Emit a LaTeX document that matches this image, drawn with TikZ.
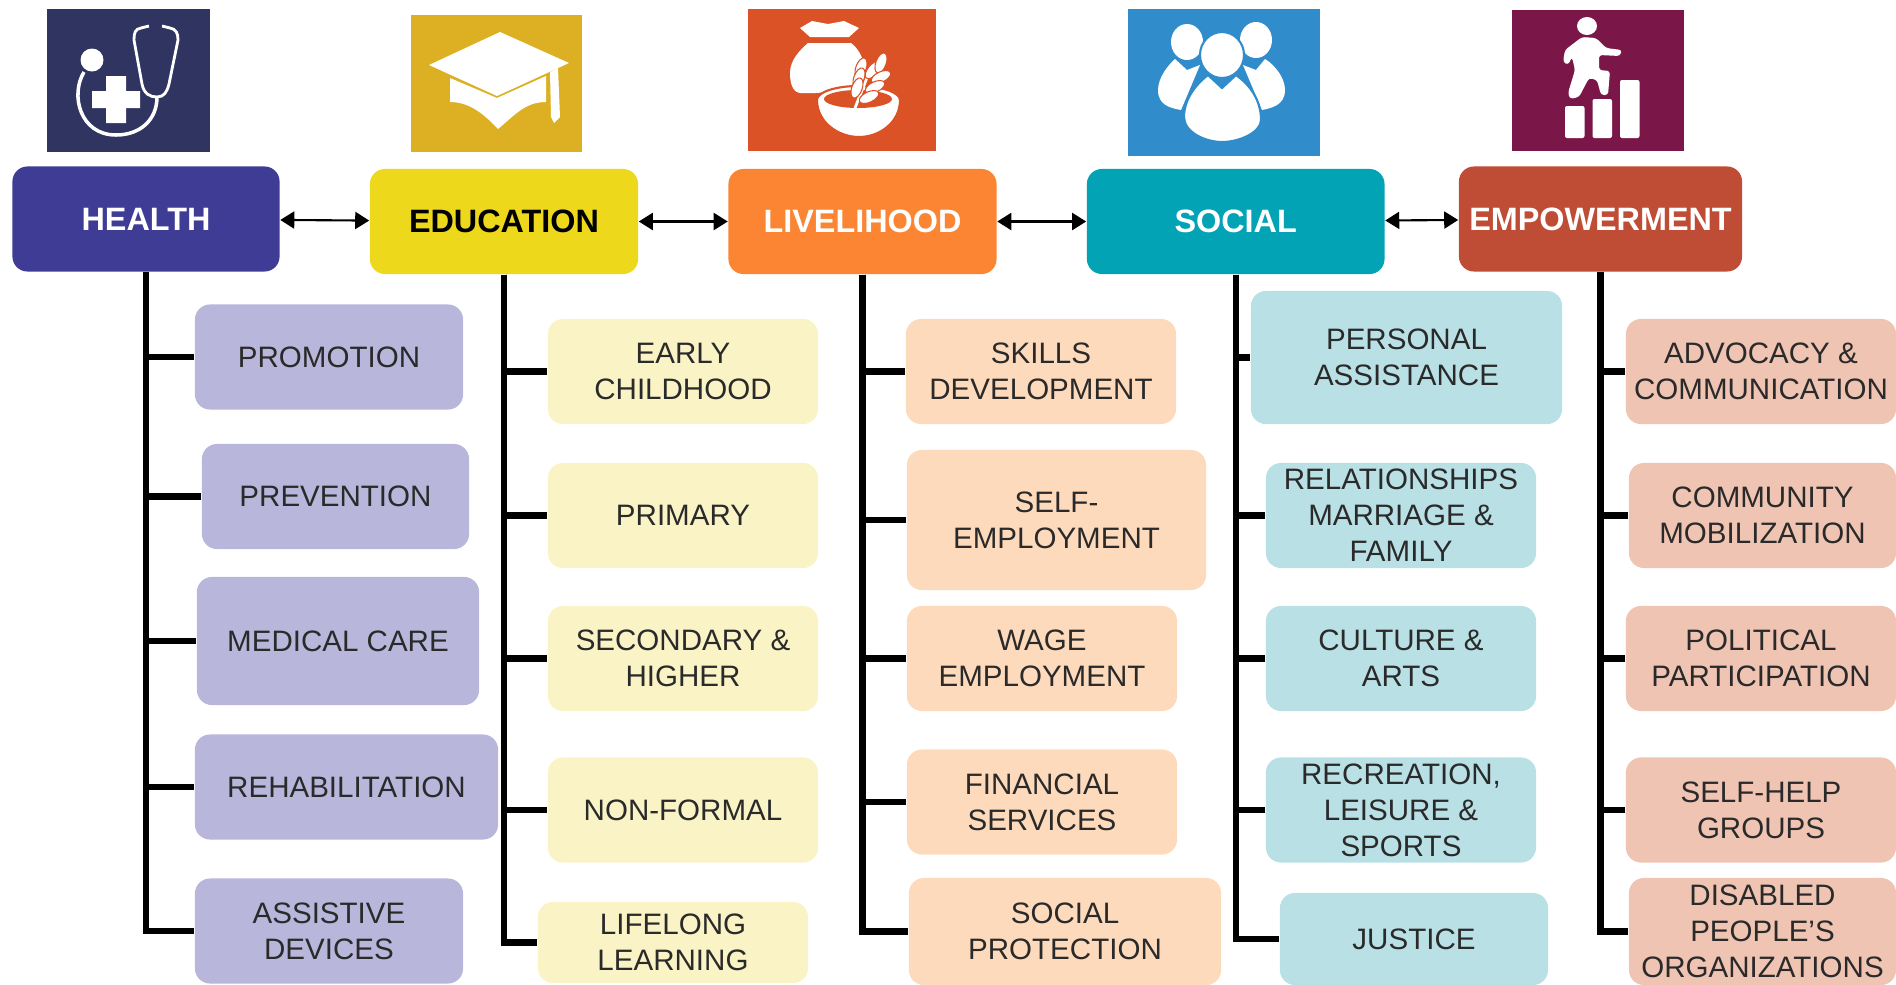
\documentclass[tikz,border=0pt]{standalone}
\usepackage{fontspec}
\setmainfont{Liberation Sans}
\usepackage{pgf,tikz}
\usetikzlibrary{arrows.meta}
\definecolor{healthdark}{HTML}{3F3C96}
\definecolor{educdark}{HTML}{EDD81C}
\definecolor{livedark}{HTML}{FB8532}
\definecolor{socdark}{HTML}{01A3B5}
\definecolor{empdark}{HTML}{BF4C35}
\definecolor{healthlight}{HTML}{B9B6DC}
\definecolor{educlight}{HTML}{FAF3C6}
\definecolor{livelight}{HTML}{FEDABC}
\definecolor{soclight}{HTML}{B9E0E5}
\definecolor{emplight}{HTML}{EFC4B3}
\definecolor{healthicon}{HTML}{2F3460}
\definecolor{educicon}{HTML}{DDB024}
\definecolor{liveicon}{HTML}{DA5226}
\definecolor{socicon}{HTML}{318CCC}
\definecolor{empicon}{HTML}{7B1748}
\definecolor{subtext}{HTML}{2A2A2A}

\begin{document}
\begin{tikzpicture}[x=0.01cm,y=-0.01cm]
		\tikzstyle{every node}+=[inner sep=0pt]
		\tikzstyle{head}=[rounded corners=0.15cm, yshift=-0.01cm, minimum height=1.05cm, text=white, align=center, font=\fontsize{9.2}{11}\selectfont\bfseries]
		\tikzstyle{sub}=[rounded corners=0.15cm, yshift=-0.01cm, minimum width=2.7cm, minimum height=1.05cm, text=subtext, align=center, font=\fontsize{8.4}{10.2}\selectfont]
		\tikzstyle{icon}=[minimum width=1.7cm, minimum height=1.42cm]
		\tikzstyle{trunk}=[black, line width=1.8pt]
		\tikzstyle{link}=[black, line width=0.6pt, {Triangle[length=0.14cm,width=0.17cm]}-{Triangle[length=0.14cm,width=0.17cm]}]
		\useasboundingbox (0,0) rectangle (1896,984);

		\node [icon, fill=healthicon, minimum width=1.63cm] (healthpic) at (128.5,80.5) {};
		\node [icon, fill=educicon, minimum width=1.71cm, minimum height=1.37cm] (educpic) at (496.5,83.5) {};
		\node [icon, fill=liveicon, minimum width=1.88cm] (livepic) at (842,80) {};
		\node [icon, fill=socicon, minimum width=1.92cm, minimum height=1.47cm] (socpic) at (1224,82.5) {};
		\node [icon, fill=empicon, minimum width=1.72cm, minimum height=1.41cm] (emppic) at (1598,80.5) {};

		\node [head, fill=healthdark, minimum width=2.67cm] (health) at (146,218) {HEALTH};
		\node [head, fill=educdark, text=black, minimum width=2.68cm] (educ) at (504,220.5) {EDUCATION};
		\node [head, fill=livedark, minimum width=2.68cm] (live) at (862.5,220.5) {LIVELIHOOD};
		\node [head, fill=socdark, minimum width=2.975cm] (soc) at (1235.7,220.5) {SOCIAL};
		\node [head, fill=empdark, minimum width=2.83cm] (emp) at (1600.5,218) {EMPOWERMENT};

		\node [sub, fill=healthlight, minimum width=2.68cm] (promo) at (329,356) {PROMOTION};
		\node [sub, fill=healthlight, minimum width=2.67cm] (prev) at (335.5,495.5) {PREVENTION};
		\node [sub, fill=healthlight, minimum width=2.82cm, minimum height=1.28cm] (medical) at (338,640) {MEDICAL CARE};
		\node [sub, fill=healthlight, minimum width=3.03cm] (rehab) at (346.5,786) {REHABILITATION};
		\node [sub, fill=healthlight, minimum width=2.68cm] (assist) at (329,930) {ASSISTIVE\\DEVICES};

		\node [sub, fill=educlight] (early) at (683,370.5) {EARLY\\CHILDHOOD};
		\node [sub, fill=educlight] (primary) at (683,514.5) {PRIMARY};
		\node [sub, fill=educlight] (second) at (683,657.5) {SECONDARY \&\\HIGHER};
		\node [sub, fill=educlight] (nonformal) at (683,809) {NON-FORMAL};
		\node [sub, fill=educlight, minimum height=0.81cm] (lifelong) at (673,941.5) {LIFELONG\\LEARNING};

		\node [sub, fill=livelight] (skills) at (1041,370.5) {SKILLS\\DEVELOPMENT};
		\node [sub, fill=livelight, minimum width=2.99cm, minimum height=1.4cm] (selfemp) at (1056.5,519) {SELF-\\EMPLOYMENT};
		\node [sub, fill=livelight] (wage) at (1042,657.5) {WAGE\\EMPLOYMENT};
		\node [sub, fill=livelight] (finance) at (1042,801) {FINANCIAL\\SERVICES};
		\node [sub, fill=livelight, minimum width=3.12cm, minimum height=1.07cm] (protect) at (1065,930.5) {SOCIAL\\PROTECTION};

		\node [sub, fill=soclight, minimum width=3.11cm, minimum height=1.33cm] (personal) at (1406.5,356.5) {PERSONAL\\ASSISTANCE};
		\node [sub, fill=soclight] (relation) at (1401,514.5) {RELATIONSHIPS\\MARRIAGE \&\\FAMILY};
		\node [sub, fill=soclight] (culture) at (1401,657.5) {CULTURE \&\\ARTS};
		\node [sub, fill=soclight] (recreat) at (1401,809) {RECREATION,\\LEISURE \&\\SPORTS};
		\node [sub, fill=soclight, minimum width=2.68cm, minimum height=0.92cm] (justice) at (1414,938) {JUSTICE};

		\node [sub, fill=emplight] (advocacy) at (1761,370.5) {ADVOCACY \&\\COMMUNICATION};
		\node [sub, fill=emplight, minimum width=2.67cm] (mobil) at (1762.5,514.5) {COMMUNITY\\MOBILIZATION};
		\node [sub, fill=emplight] (politic) at (1761,657.5) {POLITICAL\\PARTICIPATION};
		\node [sub, fill=emplight] (selfhelp) at (1761,809) {SELF-HELP\\GROUPS};
		\node [sub, fill=emplight, minimum width=2.67cm, minimum height=1.07cm] (disabled) at (1762.5,930.5) {DISABLED\\PEOPLE'S\\ORGANIZATIONS};

		\draw [link] (health) -- (educ);
		\draw [link] (educ) -- (live);
		\draw [link] (live) -- (soc);
		\draw [link] (soc) -- (emp);

		\foreach \kid in {promo,prev,medical,rehab,assist}
			\draw [trunk] (health.south) |- (\kid.west);
		\foreach \kid in {early,primary,second,nonformal,lifelong}
			\draw [trunk] (educ.south) |- (\kid.west);
		\foreach \kid in {skills,selfemp,wage,finance,protect}
			\draw [trunk] (live.south) |- (\kid.west);
		\foreach \kid in {personal,relation,culture,recreat,justice}
			\draw [trunk] (soc.south) |- (\kid.west);
		\foreach \kid in {advocacy,mobil,politic,selfhelp,disabled}
			\draw [trunk] (emp.south) |- (\kid.west);

		\fill [white] (92,60) circle (11.5);
		\fill [white] (106,76) -- (126,76) -- (126,91) -- (140,91) -- (140,108) -- (126,108) -- (126,123) -- (106,123) -- (106,108) -- (92,108) -- (92,91) -- (106,91) -- cycle;
		\draw [white, line width=1pt] (84,72) .. controls (70,95) and (80,135) .. (116,135) .. controls (140,135) and (157,120) .. (157,97);
		\draw [white, line width=0.8pt] (149,26) -- (141,28) .. controls (135,29) and (134,33) .. (134,40) -- (142,84) .. controls (144,94) and (150,97) .. (157,97) .. controls (164,97) and (167,92) .. (169,84) -- (178,40) .. controls (178,33) and (176,29) .. (170,28) -- (162,26);

		\fill [white] (500,32) -- (569,63) -- (497,96) -- (429,65) -- cycle;
		\fill [white] (450,78) -- (497,98) -- (546,76) -- (546,102) .. controls (525,102) and (515,115) .. (498,129) .. controls (485,115) and (470,102) .. (450,102) -- cycle;
		\fill [white] (550,72) -- (558,68) -- (560,117) -- (554,123) -- (551,117) -- cycle;

		\fill [white] (800,28) -- (812,21) -- (828,24) -- (844,21) -- (859,28) -- (849,37) -- (810,37) -- cycle;
		\fill [white] (808,43) -- (851,43) .. controls (858,48) and (863,58) .. (863,62) -- (851,90) -- (816,93) -- (800,93) .. controls (792,92) and (790,82) .. (790,73) .. controls (790,60) and (800,50) .. (808,43) -- cycle;
		\filldraw [white, draw=liveicon, line width=0.6pt] (817,100) .. controls (817,122) and (838,137) .. (859,137) .. controls (880,137) and (900,122) .. (900,100) .. controls (900,92) and (880,86) .. (858,86) .. controls (836,86) and (817,92) .. (817,100) -- cycle;
		\fill [liveicon] (858,99) ellipse [x radius=34, y radius=9];
		\draw [white, line width=0.8pt] (855,108) -- (870,70);
		\foreach \gx/\gy/\ga in {861/68/70,859/78/70,857/88/70,873/70/50,881/63/70,881/77/25,875/87/25,869/97/25}
			\filldraw [white, draw=liveicon, line width=0.3pt] (\gx,\gy) ellipse [x radius=0.105cm, y radius=0.052cm, rotate=\ga];

		\fill [white] (1187,42) ellipse [x radius=16, y radius=18];
		\fill [white] (1256,40) ellipse [x radius=16, y radius=18];
		\fill [white] (1175,59) -- (1187,70) -- (1200,65) -- (1181,110) .. controls (1170,108) and (1158,105) .. (1158,90) .. controls (1158,78) and (1168,65) .. (1175,59) -- cycle;
		\fill [white] (1265,59) -- (1256,70) -- (1243,65) -- (1262,110) .. controls (1272,108) and (1285,105) .. (1285,90) .. controls (1285,78) and (1275,65) .. (1265,59) -- cycle;
		\filldraw [white, draw=socicon, line width=0.6pt] (1222,55) ellipse [x radius=22, y radius=23];
		\filldraw [white, draw=socicon, line width=0.6pt] (1208,75) -- (1222,88) -- (1236,75) .. controls (1250,85) and (1261,100) .. (1261,120) .. controls (1261,132) and (1240,142) .. (1222,142) .. controls (1205,142) and (1184,132) .. (1184,117) .. controls (1184,100) and (1195,85) .. (1208,75) -- cycle;

		\fill [white] (1587,26) ellipse [x radius=10, y radius=9];
		\fill [white, rounded corners=0.03cm] (1565,50) -- (1582,37) -- (1596,38) -- (1606,48) -- (1622,50) -- (1620,56) -- (1599,55) -- (1599,70) -- (1610,71) -- (1608,95) -- (1601,95) -- (1597,80) -- (1589,78) -- (1579,97) -- (1570,99) -- (1568,93) -- (1575,70) -- (1572,57) -- (1568,65) -- (1563,62) -- cycle;
		\foreach \bl/\bt in {1565/106,1592.5/99,1620/80}
			\fill [white, rounded corners=0.02cm] (\bl,\bt) rectangle (\bl+19.5,138);
\end{tikzpicture}
\end{document}
